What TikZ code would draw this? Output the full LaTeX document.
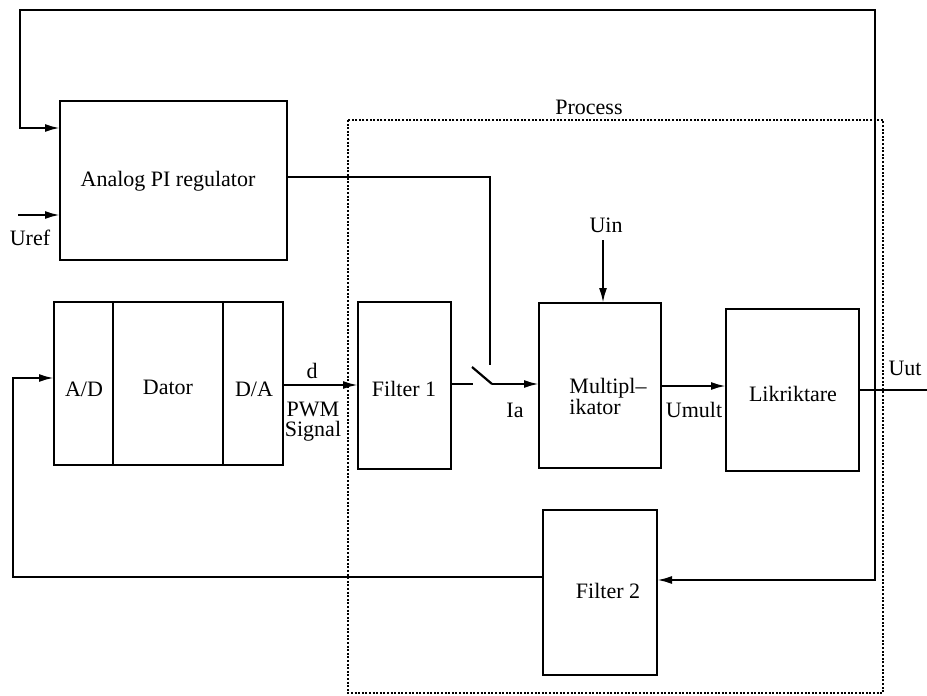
\documentclass[tikz,border=0pt]{standalone}
\usepackage{fontspec}
\setmainfont{Liberation Serif}
\usetikzlibrary{arrows.meta}
\begin{document}
\begin{tikzpicture}[x=1pt,y=-1pt,
  every node/.style={font=\fontsize{22}{23}\selectfont},
  wire/.style={line width=2.2pt},
  arr/.style={wire,-{Latex[length=15pt,width=8pt]}},
  box/.style={draw,line width=2.2pt,rectangle,inner sep=0pt,outer sep=0pt},
  lbl/.style={inner sep=0pt,outer sep=0pt},
  proc/.style={line width=2.2pt,dash pattern=on 2pt off 1.6pt}]
\useasboundingbox (0,0) rectangle (927,696);
% process frame
\draw[proc] (348,120) rectangle (883,693);
\node[lbl] (ptext) at (589,107) {Process};
% boxes
\node[box,minimum width=227pt,minimum height=159pt] (analog) at (173.5,180.5) {};
\node[lbl] (atext) at (168,181) {Analog PI regulator};
\node[box,minimum width=59pt,minimum height=163pt] (ad) at (83.5,383.5) {};
\node[lbl] (adtext) at (84,389) {A/D};
\node[box,minimum width=110pt,minimum height=163pt] (dator) at (168,383.5) {};
\node[lbl] (dtext) at (168,387) {Dator};
\node[box,minimum width=60pt,minimum height=163pt] (da) at (253,383.5) {};
\node[lbl] (datext) at (254,389) {D/A};
\node[box,minimum width=93pt,minimum height=167pt] (f1) at (404.5,385.5) {};
\node[lbl] (f1text) at (404,389) {Filter 1};
\node[box,minimum width=122pt,minimum height=165pt] (mult) at (600,385.5) {};
\node[lbl,align=left] (mtext) at (608,396) {Multipl--\\[-2pt]ikator};
\node[box,minimum width=133pt,minimum height=162pt] (lik) at (792.5,390) {};
\node[lbl] (ltext) at (793,394) {Likriktare};
\node[box,minimum width=114pt,minimum height=165pt] (f2) at (600,592.5) {};
\node[lbl] (f2text) at (608,591) {Filter 2};
% coordinates
\coordinate (jn) at (875,390);
\coordinate (tr) at (875,10);
\coordinate (tl) at (20,10);
\coordinate (ain) at (20,128);
\coordinate (fb2) at (875,580);
\coordinate (uref) at (18,215);
\coordinate (aout) at (287,177);
\coordinate (acorner) at (490,177);
\coordinate (swtop) at (490,365);
\coordinate (s0) at (473,384);
\coordinate (b0) at (472,367);
\coordinate (b1) at (492,384);
\coordinate (uin) at (603,240);
\coordinate (um) at (661,386);
\coordinate (out) at (927,390);
\coordinate (fbl) at (13,577);
\coordinate (fbin) at (13,378);
\coordinate (f2w) at (543,577);
\coordinate (dd) at (283,385);
% connectors
\draw[arr] (jn) -- (tr) -- (tl) -- (ain) -- (analog.west |- ain);
\draw[arr] (jn) -- (fb2) -- (f2.east |- fb2);
\draw[arr] (uref) -- (analog.west |- uref);
\node[lbl] (ureft) at (30,238) {Uref};
\draw[wire] (analog.east |- aout) -- (acorner) -- (swtop);
\draw[wire] (f1.east |- s0) -- (s0);
\draw[wire] (b0) -- (b1);
\draw[arr] (b1) -- (mult.west |- b1);
\node[lbl] (iat) at (515,410) {Ia};
\draw[arr] (da.east |- dd) -- (f1.west |- dd);
\node[lbl] (dt) at (312,371) {d};
\node[lbl,align=center] (pwm) at (313,422) {PWM\\[-3pt]Signal};
\draw[arr] (uin) -- (uin |- mult.north);
\node[lbl] (uint) at (606,225) {Uin};
\draw[arr] (mult.east |- um) -- (lik.west |- um);
\node[lbl] (umt) at (694,410) {Umult};
\draw[wire] (lik.east |- out) -- (out);
\node[lbl] (uutt) at (905,368) {Uut};
\draw[arr] (f2.west |- f2w) -- (fbl) -- (fbin) -- (ad.west |- fbin);
\end{tikzpicture}
\end{document}
